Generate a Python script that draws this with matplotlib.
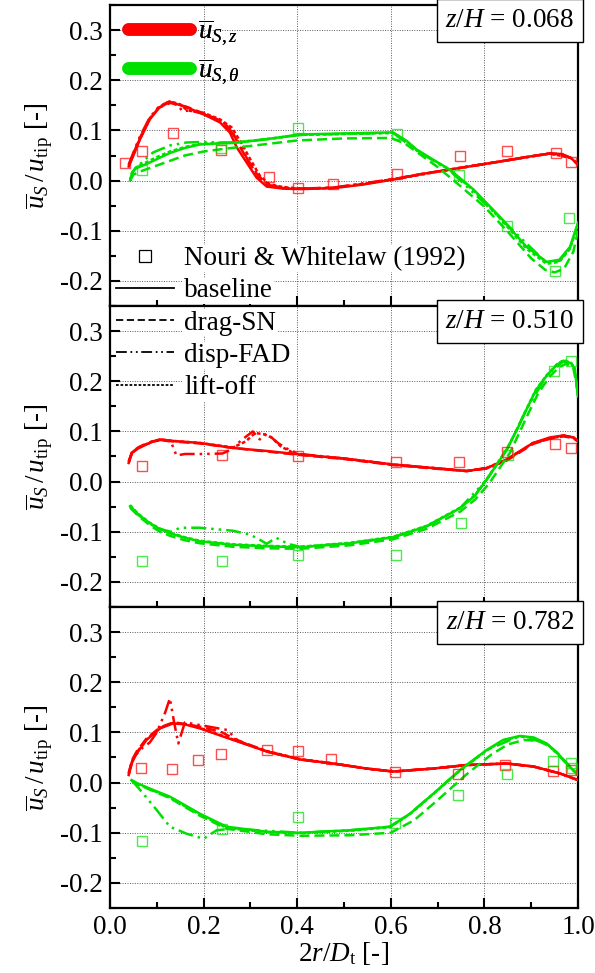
import numpy as np
import matplotlib
matplotlib.use("Agg")
import matplotlib.pyplot as plt
from matplotlib.lines import Line2D
from matplotlib.ticker import MultipleLocator

plt.rcParams["font.family"] = "serif"
plt.rcParams["font.serif"] = ["Liberation Serif", "DejaVu Serif"]
plt.rcParams["mathtext.fontset"] = "custom"
plt.rcParams["mathtext.rm"] = "Liberation Serif"
plt.rcParams["mathtext.it"] = "Liberation Serif:italic"
plt.rcParams["mathtext.bf"] = "Liberation Serif:bold"

RED = "#ff0000"
GREEN = "#00e000"

# ---------------- data ----------------
zh_labels = ["0.068", "0.510", "0.782"]

# panel 1, z/H = 0.068
p1_red_base_x = [0.04, 0.05, 0.064, 0.085, 0.105, 0.128, 0.164, 0.2, 0.235, 0.256, 0.271, 0.292, 0.313, 0.335, 0.37, 0.406, 0.477, 0.54, 0.605, 0.665, 0.726, 0.78, 0.833, 0.89, 0.94, 0.965, 0.985, 1.0]
p1_red_base_y = [0.028, 0.05, 0.082, 0.122, 0.145, 0.157, 0.146, 0.132, 0.116, 0.096, 0.066, 0.036, 0.006, -0.012, -0.016, -0.017, -0.015, -0.008, 0.002, 0.013, 0.022, 0.03, 0.038, 0.047, 0.054, 0.053, 0.045, 0.032]
p1_red_drag_x = [0.04, 0.05, 0.064, 0.085, 0.105, 0.13, 0.164, 0.2, 0.24, 0.26, 0.276, 0.296, 0.318, 0.34, 0.37, 0.406, 0.477, 0.54, 0.605, 0.665, 0.726, 0.78, 0.833, 0.89, 0.94, 0.965, 0.985, 1.0]
p1_red_drag_y = [0.03, 0.054, 0.085, 0.124, 0.146, 0.155, 0.147, 0.134, 0.118, 0.1, 0.07, 0.038, 0.007, -0.011, -0.015, -0.016, -0.014, -0.007, 0.003, 0.013, 0.022, 0.03, 0.038, 0.047, 0.054, 0.053, 0.045, 0.032]
p1_red_disp_x = [0.04, 0.05, 0.064, 0.085, 0.105, 0.125, 0.145, 0.155, 0.17, 0.2, 0.235, 0.256, 0.275, 0.295, 0.318, 0.34, 0.37, 0.406, 0.477, 0.605, 0.726, 0.833, 0.94, 0.985, 1.0]
p1_red_disp_y = [0.032, 0.056, 0.088, 0.126, 0.148, 0.157, 0.15, 0.138, 0.14, 0.133, 0.118, 0.102, 0.076, 0.04, 0.009, -0.009, -0.014, -0.016, -0.014, 0.003, 0.022, 0.038, 0.054, 0.045, 0.032]
p1_red_lift_x = [0.04, 0.05, 0.064, 0.085, 0.105, 0.128, 0.15, 0.165, 0.2, 0.235, 0.26, 0.28, 0.3, 0.32, 0.34, 0.37, 0.406, 0.477, 0.605, 0.726, 0.833, 0.94, 0.985, 1.0]
p1_red_lift_y = [0.03, 0.052, 0.084, 0.123, 0.147, 0.158, 0.152, 0.14, 0.135, 0.122, 0.106, 0.076, 0.042, 0.01, -0.007, -0.013, -0.016, -0.015, 0.002, 0.022, 0.038, 0.054, 0.045, 0.032]

p1_grn_base_x = [0.043, 0.047, 0.055, 0.07, 0.085, 0.105, 0.128, 0.16, 0.192, 0.23, 0.265, 0.33, 0.406, 0.5, 0.605, 0.634, 0.655, 0.69, 0.726, 0.777, 0.833, 0.89, 0.933, 0.96, 0.983, 1.0]
p1_grn_base_y = [0.0, 0.015, 0.024, 0.03, 0.036, 0.045, 0.055, 0.065, 0.072, 0.074, 0.075, 0.082, 0.092, 0.094, 0.096, 0.079, 0.062, 0.042, 0.022, -0.018, -0.072, -0.132, -0.162, -0.158, -0.132, -0.084]
p1_grn_drag_x = [0.043, 0.05, 0.07, 0.1, 0.13, 0.16, 0.2, 0.25, 0.3, 0.4, 0.5, 0.6, 0.63, 0.66, 0.7, 0.75, 0.8, 0.85, 0.9, 0.93, 0.95, 0.97, 0.99, 1.0]
p1_grn_drag_y = [0.0, 0.012, 0.02, 0.03, 0.04, 0.05, 0.058, 0.064, 0.069, 0.08, 0.084, 0.085, 0.074, 0.054, 0.027, -0.012, -0.052, -0.102, -0.155, -0.178, -0.183, -0.176, -0.142, -0.1]
p1_grn_disp_x = [0.043, 0.05, 0.07, 0.092, 0.128, 0.164, 0.2, 0.23, 0.265, 0.33, 0.406, 0.5, 0.605, 0.655, 0.726, 0.833, 0.933, 0.96, 0.983, 1.0]
p1_grn_disp_y = [0.0, 0.02, 0.038, 0.056, 0.07, 0.076, 0.077, 0.076, 0.076, 0.082, 0.091, 0.093, 0.095, 0.06, 0.02, -0.074, -0.164, -0.16, -0.134, -0.086]
p1_grn_lift_x = [0.043, 0.047, 0.055, 0.07, 0.085, 0.105, 0.128, 0.16, 0.192, 0.23, 0.265, 0.33, 0.406, 0.5, 0.605, 0.634, 0.655, 0.69, 0.726, 0.777, 0.833, 0.89, 0.933, 0.96, 0.983, 1.0]
p1_grn_lift_y = [0.0, 0.016, 0.026, 0.033, 0.04, 0.049, 0.058, 0.067, 0.073, 0.075, 0.076, 0.082, 0.091, 0.093, 0.095, 0.078, 0.061, 0.041, 0.021, -0.02, -0.075, -0.136, -0.166, -0.162, -0.136, -0.088]

p1_exp_red_x = [0.032, 0.068, 0.134, 0.237, 0.34, 0.402, 0.476, 0.613, 0.748, 0.849, 0.954, 0.984]
p1_exp_red_y = [0.036, 0.059, 0.095, 0.061, 0.007, -0.015, -0.006, 0.014, 0.05, 0.059, 0.055, 0.037]
p1_exp_grn_x = [0.068, 0.237, 0.402, 0.613, 0.746, 0.848, 0.951, 0.981]
p1_exp_grn_y = [0.021, 0.064, 0.105, 0.092, 0.011, -0.091, -0.181, -0.075]

# panel 2, z/H = 0.510
p2_red_base_x = [0.04, 0.047, 0.06, 0.071, 0.09, 0.107, 0.135, 0.192, 0.263, 0.335, 0.406, 0.5, 0.605, 0.691, 0.762, 0.805, 0.848, 0.875, 0.904, 0.94, 0.969, 0.99, 1.0]
p2_red_base_y = [0.037, 0.057, 0.066, 0.071, 0.079, 0.084, 0.081, 0.077, 0.067, 0.061, 0.054, 0.046, 0.034, 0.027, 0.021, 0.027, 0.044, 0.06, 0.077, 0.088, 0.092, 0.088, 0.08]
p2_red_drag_x = [0.04, 0.047, 0.06, 0.071, 0.09, 0.107, 0.135, 0.192, 0.263, 0.335, 0.406, 0.5, 0.605, 0.691, 0.762, 0.805, 0.848, 0.875, 0.904, 0.94, 0.969, 0.99, 1.0]
p2_red_drag_y = [0.04, 0.059, 0.068, 0.073, 0.08, 0.083, 0.08, 0.076, 0.067, 0.06, 0.053, 0.045, 0.033, 0.026, 0.021, 0.026, 0.042, 0.058, 0.075, 0.086, 0.09, 0.087, 0.08]
p2_red_disp_x = [0.04, 0.047, 0.06, 0.071, 0.09, 0.107, 0.13, 0.142, 0.16, 0.2, 0.24, 0.26, 0.28, 0.305, 0.32, 0.335, 0.36, 0.385, 0.406, 0.5, 0.605, 0.691, 0.762, 0.805, 0.848, 0.904, 0.969, 0.99, 1.0]
p2_red_disp_y = [0.04, 0.058, 0.067, 0.072, 0.079, 0.083, 0.08, 0.052, 0.055, 0.055, 0.056, 0.064, 0.082, 0.1, 0.084, 0.096, 0.076, 0.062, 0.055, 0.046, 0.034, 0.027, 0.021, 0.027, 0.044, 0.077, 0.092, 0.088, 0.08]
p2_red_lift_x = [0.04, 0.047, 0.06, 0.071, 0.09, 0.107, 0.135, 0.192, 0.263, 0.29, 0.31, 0.33, 0.345, 0.365, 0.39, 0.406, 0.5, 0.605, 0.691, 0.762, 0.805, 0.848, 0.904, 0.969, 0.99, 1.0]
p2_red_lift_y = [0.038, 0.058, 0.067, 0.072, 0.08, 0.084, 0.081, 0.077, 0.068, 0.08, 0.097, 0.094, 0.088, 0.07, 0.058, 0.054, 0.046, 0.034, 0.027, 0.021, 0.027, 0.044, 0.077, 0.092, 0.088, 0.08]

p2_grn_base_x = [0.043, 0.06, 0.085, 0.105, 0.128, 0.16, 0.192, 0.263, 0.335, 0.406, 0.513, 0.605, 0.677, 0.748, 0.78, 0.805, 0.848, 0.87, 0.89, 0.91, 0.933, 0.955, 0.969, 0.985, 0.993, 1.0]
p2_grn_base_y = [-0.049, -0.065, -0.083, -0.094, -0.103, -0.112, -0.119, -0.126, -0.129, -0.131, -0.123, -0.111, -0.089, -0.053, -0.028, 0.004, 0.064, 0.104, 0.144, 0.182, 0.211, 0.233, 0.241, 0.236, 0.225, 0.17]
p2_grn_drag_x = [0.043, 0.06, 0.085, 0.105, 0.128, 0.16, 0.192, 0.263, 0.335, 0.406, 0.513, 0.605, 0.677, 0.748, 0.78, 0.81, 0.855, 0.875, 0.895, 0.915, 0.94, 0.96, 0.975, 0.99, 1.0]
p2_grn_drag_y = [-0.052, -0.068, -0.087, -0.099, -0.108, -0.117, -0.123, -0.13, -0.133, -0.134, -0.127, -0.115, -0.094, -0.06, -0.036, -0.004, 0.058, 0.098, 0.138, 0.176, 0.21, 0.228, 0.235, 0.226, 0.18]
p2_grn_disp_x = [0.043, 0.06, 0.085, 0.105, 0.13, 0.15, 0.192, 0.263, 0.3, 0.32, 0.335, 0.355, 0.38, 0.406, 0.513, 0.605, 0.677, 0.748, 0.805, 0.848, 0.89, 0.933, 0.969, 0.993, 1.0]
p2_grn_disp_y = [-0.05, -0.066, -0.084, -0.094, -0.1, -0.092, -0.092, -0.098, -0.106, -0.116, -0.124, -0.112, -0.124, -0.13, -0.123, -0.111, -0.089, -0.053, 0.004, 0.064, 0.144, 0.211, 0.24, 0.224, 0.17]
p2_grn_lift_x = [0.043, 0.06, 0.085, 0.105, 0.128, 0.16, 0.192, 0.263, 0.335, 0.406, 0.513, 0.605, 0.677, 0.748, 0.78, 0.805, 0.848, 0.87, 0.89, 0.91, 0.933, 0.955, 0.969, 0.985, 0.993, 1.0]
p2_grn_lift_y = [-0.047, -0.064, -0.082, -0.093, -0.102, -0.111, -0.118, -0.125, -0.128, -0.13, -0.122, -0.11, -0.088, -0.052, -0.027, 0.005, 0.065, 0.105, 0.145, 0.183, 0.212, 0.234, 0.242, 0.237, 0.226, 0.172]

p2_exp_red_x = [0.068, 0.239, 0.401, 0.611, 0.746, 0.849, 0.951, 0.984]
p2_exp_red_y = [0.031, 0.052, 0.051, 0.039, 0.039, 0.059, 0.075, 0.067]
p2_exp_grn_x = [0.069, 0.239, 0.401, 0.611, 0.75, 0.851, 0.949, 0.984]
p2_exp_grn_y = [-0.158, -0.158, -0.146, -0.146, -0.083, 0.052, 0.221, 0.241]

# panel 3, z/H = 0.782
p3_red_base_x = [0.04, 0.047, 0.057, 0.078, 0.107, 0.135, 0.16, 0.192, 0.263, 0.335, 0.406, 0.477, 0.548, 0.605, 0.691, 0.762, 0.848, 0.905, 0.962, 1.0]
p3_red_base_y = [0.015, 0.04, 0.058, 0.085, 0.108, 0.118, 0.116, 0.108, 0.085, 0.062, 0.046, 0.038, 0.028, 0.022, 0.028, 0.035, 0.038, 0.032, 0.018, 0.005]
p3_red_drag_x = [0.04, 0.047, 0.057, 0.078, 0.107, 0.135, 0.16, 0.2, 0.24, 0.263, 0.335, 0.406, 0.477, 0.548, 0.605, 0.691, 0.762, 0.848, 0.905, 0.962, 1.0]
p3_red_drag_y = [0.018, 0.045, 0.062, 0.088, 0.11, 0.12, 0.117, 0.11, 0.1, 0.088, 0.062, 0.046, 0.038, 0.028, 0.022, 0.028, 0.035, 0.038, 0.032, 0.018, 0.005]
p3_red_disp_x = [0.04, 0.05, 0.07, 0.085, 0.1, 0.118, 0.128, 0.137, 0.146, 0.16, 0.19, 0.22, 0.25, 0.275, 0.335, 0.406, 0.477, 0.548, 0.605, 0.691, 0.762, 0.848, 0.905, 0.962, 1.0]
p3_red_disp_y = [0.02, 0.05, 0.07, 0.08, 0.1, 0.14, 0.168, 0.12, 0.078, 0.12, 0.115, 0.11, 0.105, 0.082, 0.062, 0.046, 0.038, 0.028, 0.022, 0.028, 0.035, 0.038, 0.032, 0.018, 0.005]
p3_red_lift_x = [0.04, 0.047, 0.057, 0.078, 0.107, 0.135, 0.16, 0.192, 0.263, 0.335, 0.406, 0.477, 0.548, 0.605, 0.691, 0.762, 0.848, 0.905, 0.962, 1.0]
p3_red_lift_y = [0.017, 0.042, 0.06, 0.086, 0.109, 0.119, 0.117, 0.109, 0.086, 0.063, 0.047, 0.038, 0.028, 0.022, 0.028, 0.035, 0.038, 0.032, 0.018, 0.005]

p3_grn_base_x = [0.046, 0.06, 0.085, 0.128, 0.192, 0.249, 0.335, 0.406, 0.513, 0.598, 0.641, 0.691, 0.748, 0.805, 0.84, 0.876, 0.905, 0.933, 0.955, 0.976, 1.0]
p3_grn_base_y = [0.005, -0.002, -0.012, -0.028, -0.062, -0.088, -0.098, -0.1, -0.095, -0.088, -0.062, -0.022, 0.025, 0.065, 0.085, 0.093, 0.09, 0.078, 0.06, 0.038, 0.015]
p3_grn_drag_x = [0.046, 0.06, 0.085, 0.128, 0.192, 0.249, 0.335, 0.406, 0.513, 0.6, 0.65, 0.7, 0.76, 0.815, 0.85, 0.885, 0.915, 0.94, 0.96, 0.98, 1.0]
p3_grn_drag_y = [0.004, -0.004, -0.014, -0.031, -0.066, -0.092, -0.103, -0.106, -0.105, -0.1, -0.075, -0.035, 0.015, 0.056, 0.076, 0.085, 0.083, 0.072, 0.055, 0.035, 0.015]
p3_grn_disp_x = [0.046, 0.06, 0.071, 0.1, 0.128, 0.164, 0.2, 0.228, 0.26, 0.335, 0.406, 0.513, 0.598, 0.641, 0.691, 0.748, 0.805, 0.876, 0.933, 0.976, 1.0]
p3_grn_disp_y = [0.005, -0.01, -0.022, -0.055, -0.088, -0.102, -0.112, -0.095, -0.092, -0.096, -0.1, -0.095, -0.088, -0.062, -0.022, 0.025, 0.065, 0.093, 0.078, 0.038, 0.015]
p3_grn_lift_x = [0.046, 0.06, 0.085, 0.128, 0.192, 0.249, 0.335, 0.406, 0.513, 0.598, 0.641, 0.691, 0.748, 0.805, 0.84, 0.876, 0.905, 0.933, 0.955, 0.976, 1.0]
p3_grn_lift_y = [0.004, -0.003, -0.013, -0.03, -0.064, -0.09, -0.099, -0.101, -0.096, -0.089, -0.063, -0.023, 0.024, 0.064, 0.084, 0.092, 0.089, 0.077, 0.059, 0.037, 0.015]

p3_exp_red_x = [0.066, 0.132, 0.187, 0.237, 0.335, 0.401, 0.472, 0.609, 0.743, 0.845, 0.947, 0.984]
p3_exp_red_y = [0.03, 0.028, 0.045, 0.057, 0.064, 0.062, 0.048, 0.022, 0.018, 0.035, 0.024, 0.026]
p3_exp_grn_x = [0.068, 0.239, 0.401, 0.608, 0.744, 0.848, 0.947, 0.984, 0.987]
p3_exp_grn_y = [-0.116, -0.092, -0.068, -0.08, -0.025, 0.017, 0.043, 0.04, 0.03]

panels = [
    dict(red=[(p1_red_base_x, p1_red_base_y), (p1_red_drag_x, p1_red_drag_y), (p1_red_disp_x, p1_red_disp_y), (p1_red_lift_x, p1_red_lift_y)],
         grn=[(p1_grn_base_x, p1_grn_base_y), (p1_grn_drag_x, p1_grn_drag_y), (p1_grn_disp_x, p1_grn_disp_y), (p1_grn_lift_x, p1_grn_lift_y)],
         exp_red=(p1_exp_red_x, p1_exp_red_y), exp_grn=(p1_exp_grn_x, p1_exp_grn_y)),
    dict(red=[(p2_red_base_x, p2_red_base_y), (p2_red_drag_x, p2_red_drag_y), (p2_red_disp_x, p2_red_disp_y), (p2_red_lift_x, p2_red_lift_y)],
         grn=[(p2_grn_base_x, p2_grn_base_y), (p2_grn_drag_x, p2_grn_drag_y), (p2_grn_disp_x, p2_grn_disp_y), (p2_grn_lift_x, p2_grn_lift_y)],
         exp_red=(p2_exp_red_x, p2_exp_red_y), exp_grn=(p2_exp_grn_x, p2_exp_grn_y)),
    dict(red=[(p3_red_base_x, p3_red_base_y), (p3_red_drag_x, p3_red_drag_y), (p3_red_disp_x, p3_red_disp_y), (p3_red_lift_x, p3_red_lift_y)],
         grn=[(p3_grn_base_x, p3_grn_base_y), (p3_grn_drag_x, p3_grn_drag_y), (p3_grn_disp_x, p3_grn_disp_y), (p3_grn_lift_x, p3_grn_lift_y)],
         exp_red=(p3_exp_red_x, p3_exp_red_y), exp_grn=(p3_exp_grn_x, p3_exp_grn_y)),
]

styles = ["-", (0, (4, 2)), (0, (6, 2, 1, 2, 1, 2)), (0, (1.5, 1))]
style_names = ["baseline", "drag-SN", "disp-FAD", "lift-off"]

# ---------------- figure ----------------
W, H = 595, 973
fig = plt.figure(figsize=(W / 100, H / 100), dpi=100)

left, right = 110, 578
tops = [5, 306, 607]
bots = [306, 607, 908]
FS = 19.5

axes = []
for i in range(3):
    ax = fig.add_axes([left / W, 1 - bots[i] / H, (right - left) / W, (bots[i] - tops[i]) / H])
    axes.append(ax)
    p = panels[i]

    for (xs, ys), ls in zip(p["red"], styles):
        ax.plot(xs, ys, color=RED, lw=1.8, ls=ls, zorder=3)
    for (xs, ys), ls in zip(p["grn"], styles):
        ax.plot(xs, ys, color=GREEN, lw=1.8, ls=ls, zorder=3)
    ax.plot(*p["exp_red"], ls="none", marker="s", ms=7.5, mfc="none",
            mec=RED, mew=1.0, alpha=0.7, zorder=4)
    ax.plot(*p["exp_grn"], ls="none", marker="s", ms=7.5, mfc="none",
            mec=GREEN, mew=1.0, alpha=0.7, zorder=4)

    ax.set_xlim(0, 1)
    ax.set_ylim(-0.25, 0.35)
    ax.xaxis.set_major_locator(MultipleLocator(0.2))
    ax.xaxis.set_minor_locator(MultipleLocator(0.1))
    ax.yaxis.set_minor_locator(MultipleLocator(0.05))
    ax.set_yticks([-0.2, -0.1, 0.0, 0.1, 0.2, 0.3])
    ax.set_yticklabels(["-0.2", "-0.1", "0.0", "0.1", "0.2", "0.3"])
    ax.tick_params(which="both", direction="in", labelsize=FS, width=1.5, pad=5)
    ax.tick_params(which="major", length=7)
    ax.tick_params(which="minor", length=4)
    ax.grid(True, which="major", color="0.35", ls=(0, (1, 1.5)), lw=0.7)
    for s in ax.spines.values():
        s.set_linewidth(1.6)
    if i < 2:
        ax.tick_params(labelbottom=False)
    ax.set_ylabel(r"$\overline{u}_S\,/\,u_\mathrm{tip}$ [-]", fontsize=FS, labelpad=4)
    ax.text(0.992, 0.99, r"$z/H$ = " + zh_labels[i], transform=ax.transAxes,
            ha="right", va="top", fontsize=FS, zorder=6,
            bbox=dict(boxstyle="square,pad=0.32", fc="white", ec="black", lw=1.0))

axes[2].set_xticks([0.0, 0.2, 0.4, 0.6, 0.8, 1.0])
axes[2].set_xticklabels(["0.0", "0.2", "0.4", "0.6", "0.8", "1.0"])
axes[2].set_xlabel(r"$2r/D_\mathrm{t}$ [-]", fontsize=FS, labelpad=0)

# colour legend (top-left of panel 1)
col_handles = [Line2D([], [], color=RED, lw=9, solid_capstyle="round"),
               Line2D([], [], color=GREEN, lw=9, solid_capstyle="round")]
leg1 = axes[0].legend(col_handles, [r"$\overline{u}_{S,z}$", r"$\overline{u}_{S,\theta}$"],
                      loc="upper left", bbox_to_anchor=(0.012, 1.0), frameon=False,
                      fontsize=FS, handlelength=2.3, handletextpad=0.3,
                      labelspacing=0.35, borderaxespad=0.05)
axes[0].add_artist(leg1)

# style legend, spanning panels 1 and 2
sty_handles = [Line2D([], [], ls="none", marker="s", ms=8, mfc="none", mec="black", mew=0.9)]
for ls in styles:
    sty_handles.append(Line2D([], [], color="black", lw=1.3, ls=ls))
leg2 = axes[1].legend(sty_handles, ["Nouri & Whitelaw (1992)"] + style_names,
                      loc="upper left", bbox_to_anchor=(116 / W, 1 - 246 / H),
                      bbox_transform=fig.transFigure, frameon=False,
                      fontsize=FS, handlelength=2.15, handletextpad=0.37,
                      labelspacing=0.27, borderaxespad=0.0, borderpad=0.0)
leg2.set_zorder(10)
for t in leg2.get_texts():
    t.set_bbox(dict(fc="white", ec="none", pad=0.5))

fig.savefig("out.png", dpi=100)
